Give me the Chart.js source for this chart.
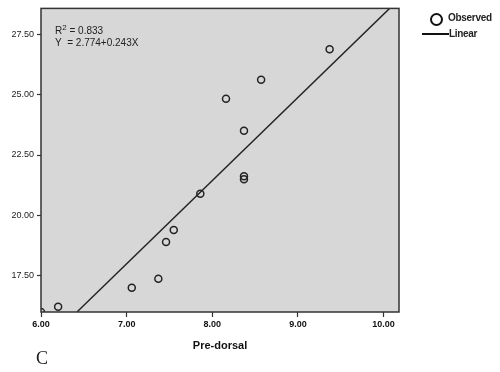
<!DOCTYPE html>
<html>
<head>
<meta charset="utf-8">
<script src="https://cdn.jsdelivr.net/npm/chart.js@4.4.0/dist/chart.umd.min.js"></script>
<style>
  body { margin: 0; background: #fff; }
  #wrap { position: relative; width: 500px; height: 372px; }
  .txt { position: absolute; font-family: "Liberation Sans", Arial, sans-serif; color: #222; white-space: nowrap; }
</style>
</head>
<body>
<div id="wrap">
  <canvas id="predorsalChart" width="500" height="372"></canvas>
  <div class="txt" style="left:55px; top:22px; font-size:10px; line-height:12px;">R<sup style="font-size:8px;">2</sup> = 0.833<br>Y&nbsp; = 2.774+0.243X</div>
  <div style="position:absolute; left:430px; top:13px; width:9px; height:9px; border:2px solid #111; border-radius:50%;"></div>
  <div class="txt" style="left:448px; top:12px; font-size:10px; font-weight:bold; letter-spacing:-0.3px;">Observed</div>
  <div style="position:absolute; left:422px; top:33px; width:27px; height:1.5px; background:#111;"></div>
  <div class="txt" style="left:449px; top:28px; font-size:10px; font-weight:bold; letter-spacing:-0.3px;">Linear</div>
  <div class="txt" style="left:36px; top:348px; font-size:18px; font-family:'Liberation Serif', serif;">C</div>
</div>
<script>
// observed points (pre-dorsal vs. y)
var obsX = [6.00, 6.20, 7.06, 7.37, 7.46, 7.55, 7.86, 8.37, 8.37, 8.37, 8.16, 8.57, 9.37];
var obsY = [16.00, 16.22, 17.00, 17.38, 18.90, 19.40, 20.90, 21.50, 21.62, 23.50, 24.83, 25.62, 26.88];

// fitted line, ends
var fitX = [6.42, 10.07];
var fitY = [16.00, 28.57];

var xTicks = [6, 7, 8, 9, 10];
var yTicks = [17.5, 20, 22.5, 25, 27.5];

function toPoints(xs, ys) {
  var pts = [];
  for (var i = 0; i < xs.length; i++) {
    pts.push({x: xs[i], y: ys[i]});
  }
  return pts;
}

var plotBox = {
  id: 'plotBox',
  beforeDatasetsDraw: function(chart) {
    var a = chart.chartArea, ctx = chart.ctx;
    ctx.save();
    ctx.fillStyle = '#d7d7d7';
    ctx.fillRect(a.left, a.top, a.right - a.left, a.bottom - a.top);
    ctx.restore();
  },
  afterDraw: function(chart) {
    var a = chart.ctx, c = chart.chartArea;
    a.save();
    a.strokeStyle = '#333';
    a.lineWidth = 1.5;
    a.strokeRect(c.left, c.top, c.right - c.left, c.bottom - c.top);
    a.restore();
  }
};

var ctx = document.getElementById('predorsalChart');
var myChart = new Chart(ctx, {
  type: 'scatter',
  data: {
    datasets: [{
      label: 'Observed',
      data: toPoints(obsX, obsY),
      pointStyle: 'circle',
      pointRadius: 3.5,
      pointBorderWidth: 1.5,
      borderColor: '#222',
      backgroundColor: 'rgba(0,0,0,0)'
    }, {
      label: 'Linear',
      type: 'line',
      data: toPoints(fitX, fitY),
      borderColor: '#222',
      borderWidth: 1.4,
      pointRadius: 0,
      fill: false
    }]
  },
  options: {
    responsive: false,
    animation: false,
    layout: {
      padding: { left: 0, right: 101, top: 8, bottom: 0 }
    },
    plugins: {
      legend: { display: false },
      tooltip: { enabled: false }
    },
    scales: {
      x: {
        type: 'linear',
        min: 6,
        max: 10.18,
        afterBuildTicks: function(scale) {
          scale.ticks = xTicks.map(function(v) { return {value: v}; });
        },
        afterFit: function(scale) { scale.height = 60; },
        border: { display: false },
        grid: { drawOnChartArea: false, tickLength: 5, color: '#333', tickWidth: 1.2 },
        ticks: {
          padding: 2,
          color: '#111',
          font: { family: 'Liberation Sans', size: 9, weight: 'bold' },
          maxRotation: 0,
          callback: function(v) { return Number(v).toFixed(2); }
        },
        title: {
          display: true,
          text: 'Pre-dorsal',
          color: '#111',
          font: { family: 'Liberation Sans', size: 11, weight: 'bold' },
          padding: { top: 0, bottom: 19 }
        }
      },
      y: {
        type: 'linear',
        min: 16.0,
        max: 28.57,
        afterBuildTicks: function(scale) {
          scale.ticks = yTicks.map(function(v) { return {value: v}; });
        },
        afterFit: function(scale) { scale.width = 41; },
        border: { display: false },
        grid: { drawOnChartArea: false, tickLength: 4, color: '#333', tickWidth: 1.2 },
        ticks: {
          padding: 3,
          color: '#222',
          font: { family: 'Liberation Sans', size: 9 },
          callback: function(v) { return Number(v).toFixed(2); }
        }
      }
    }
  },
  plugins: [plotBox]
});
</script>
</body>
</html>
